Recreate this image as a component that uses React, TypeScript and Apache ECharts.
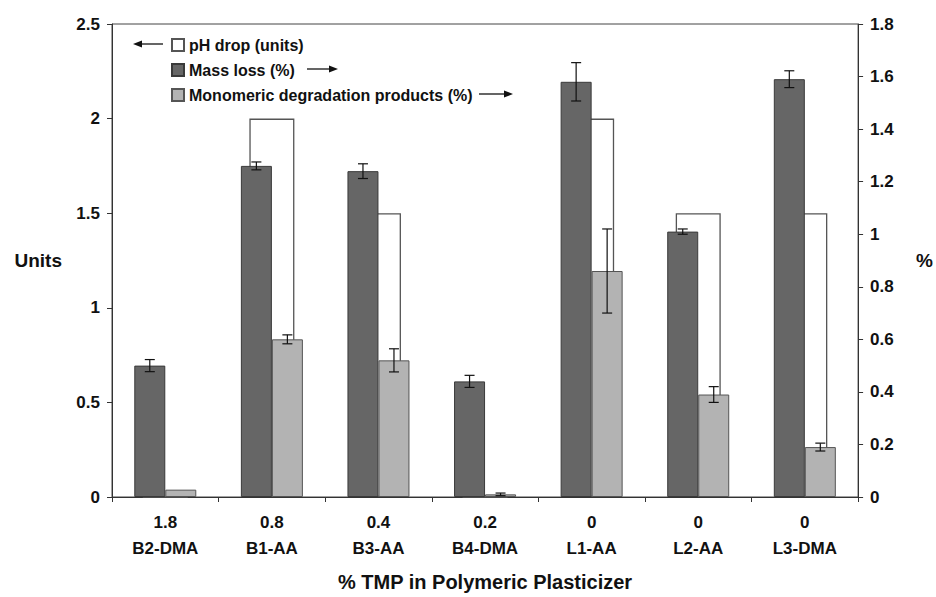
import React, { useEffect, useRef } from "react";
import * as echarts from "echarts";

const categories = ["B2-DMA", "B1-AA", "B3-AA", "B4-DMA", "L1-AA", "L2-AA", "L3-DMA"];
const tmpPercent = ["1.8", "0.8", "0.4", "0.2", "0", "0", "0"];
const phDrop = [0, 2.0, 1.5, 0, 2.0, 1.5, 1.5];
const massLoss = [0.5, 1.26, 1.24, 0.44, 1.58, 1.01, 1.59];
const massLossErr = [0.023, 0.015, 0.028, 0.023, 0.073, 0.01, 0.032];
const monomeric = [0.028, 0.6, 0.52, 0.01, 0.86, 0.39, 0.19];
const monomericErr = [0, 0.017, 0.044, 0.005, 0.16, 0.03, 0.015];
const leftTicks = { min: 0, max: 2.5, interval: 0.5 };
const rightTicks = { min: 0, max: 1.8, interval: 0.2 };

const NAMES = ["pH drop (units)", "Mass loss (%)", "Monomeric degradation products (%)"];
const FONT = "'Liberation Sans', Arial, sans-serif";
const BAR_W = 31;

function errorSeries(name: string, values: number[], errs: number[], offset: number) {
  return {
    type: "custom",
    name,
    xAxisIndex: 0,
    yAxisIndex: 1,
    z: 5,
    silent: true,
    data: values.map((v, i) => [i, v, errs[i]]),
    encode: { x: 0, y: 1 },
    renderItem: (_p: any, api: any) => {
      const i = api.value(0);
      const v = api.value(1);
      const e = api.value(2);
      if (!e) return null;
      const hi = api.coord([i, v + e]);
      const lo = api.coord([i, v - e]);
      const x = hi[0] + offset;
      const st = { stroke: "#111", lineWidth: 1.2 };
      return {
        type: "group",
        children: [
          { type: "line", shape: { x1: x, y1: hi[1], x2: x, y2: lo[1] }, style: st },
          { type: "line", shape: { x1: x - 5, y1: hi[1], x2: x + 5, y2: hi[1] }, style: st },
          { type: "line", shape: { x1: x - 5, y1: lo[1], x2: x + 5, y2: lo[1] }, style: st },
        ],
      };
    },
  };
}

function arrow(x1: number, x2: number, y: number) {
  const dir = x2 > x1 ? 1 : -1;
  const base = x2 - dir * 9;
  return [
    { type: "line", shape: { x1, y1: y, x2: base, y2: y }, style: { stroke: "#111", lineWidth: 1.3 } },
    {
      type: "polygon",
      shape: { points: [[x2, y], [base, y - 3.5], [base, y + 3.5]] },
      style: { fill: "#111" },
    },
  ];
}

export default function App() {
  const ref = useRef<HTMLDivElement>(null);
  useEffect(() => {
    if (!ref.current) return;
    const chart = echarts.init(ref.current, null, { renderer: "svg" });
    const axisLine = { show: true, lineStyle: { color: "#333", width: 1 } };
    const labelStyle = { color: "#111", fontFamily: FONT, fontWeight: "bold" as const, fontSize: 17 };
    chart.setOption({
      animation: false,
      backgroundColor: "#fff",
      grid: { left: 112, right: 77, top: 24, bottom: 100, show: true, borderColor: "#444", borderWidth: 1 },
      legend: {
        data: NAMES,
        orient: "vertical",
        left: 171,
        top: 37,
        padding: 0,
        itemWidth: 12,
        itemHeight: 12,
        itemGap: 9,
        icon: "rect",
        selectedMode: false,
        textStyle: { ...labelStyle, fontSize: 16, lineHeight: 16 },
      },
      graphic: [...arrow(163, 133, 44), ...arrow(307, 338, 69), ...arrow(479, 513, 94)],
      xAxis: [
        {
          type: "category",
          data: categories.map((c, i) => tmpPercent[i] + "\n" + c),
          axisLine,
          axisTick: { show: true, length: 5, lineStyle: { color: "#333" } },
          axisLabel: { ...labelStyle, interval: 0, margin: 12, lineHeight: 26 },
          name: "% TMP in Polymeric Plasticizer",
          nameLocation: "middle",
          nameGap: 75,
          nameTextStyle: { ...labelStyle, fontSize: 20 },
        },
        { type: "category", data: categories, show: false },
      ],
      yAxis: [
        {
          type: "value",
          ...leftTicks,
          axisLine,
          axisTick: { show: true, length: 5, lineStyle: { color: "#333" } },
          splitLine: { show: false },
          axisLabel: { ...labelStyle, margin: 12 },
          name: "Units",
          nameLocation: "middle",
          nameRotate: 0,
          nameGap: 50,
          nameTextStyle: { ...labelStyle, fontSize: 19 },
        },
        {
          type: "value",
          ...rightTicks,
          position: "right",
          axisLine,
          axisTick: { show: true, length: 5, lineStyle: { color: "#333" } },
          splitLine: { show: false },
          axisLabel: { ...labelStyle, margin: 12 },
          name: "%",
          nameLocation: "middle",
          nameRotate: 0,
          nameGap: 58,
          nameTextStyle: { ...labelStyle, fontSize: 19 },
        },
      ],
      series: [
        {
          name: NAMES[0],
          type: "bar",
          xAxisIndex: 1,
          yAxisIndex: 0,
          barWidth: 45,
          z: 1,
          data: phDrop,
          itemStyle: { color: "#ffffff", borderColor: "#555", borderWidth: 1.3 },
        },
        {
          name: NAMES[1],
          type: "bar",
          xAxisIndex: 0,
          yAxisIndex: 1,
          barWidth: BAR_W,
          barGap: "0%",
          z: 2,
          data: massLoss,
          itemStyle: { color: "#666666", borderColor: "#3a3a3a", borderWidth: 1 },
        },
        {
          name: NAMES[2],
          type: "bar",
          xAxisIndex: 0,
          yAxisIndex: 1,
          barWidth: BAR_W,
          barGap: "0%",
          z: 2,
          data: monomeric,
          itemStyle: { color: "#b3b3b3", borderColor: "#555", borderWidth: 1 },
        },
        errorSeries("Mass loss error", massLoss, massLossErr, -BAR_W / 2),
        errorSeries("Monomeric error", monomeric, monomericErr, BAR_W / 2),
      ],
    });
    return () => chart.dispose();
  }, []);
  return (
    <div
      ref={ref}
      style={{ position: "absolute", left: 0, top: 0, width: 936, height: 597, background: "#fff" }}
    />
  );
}
